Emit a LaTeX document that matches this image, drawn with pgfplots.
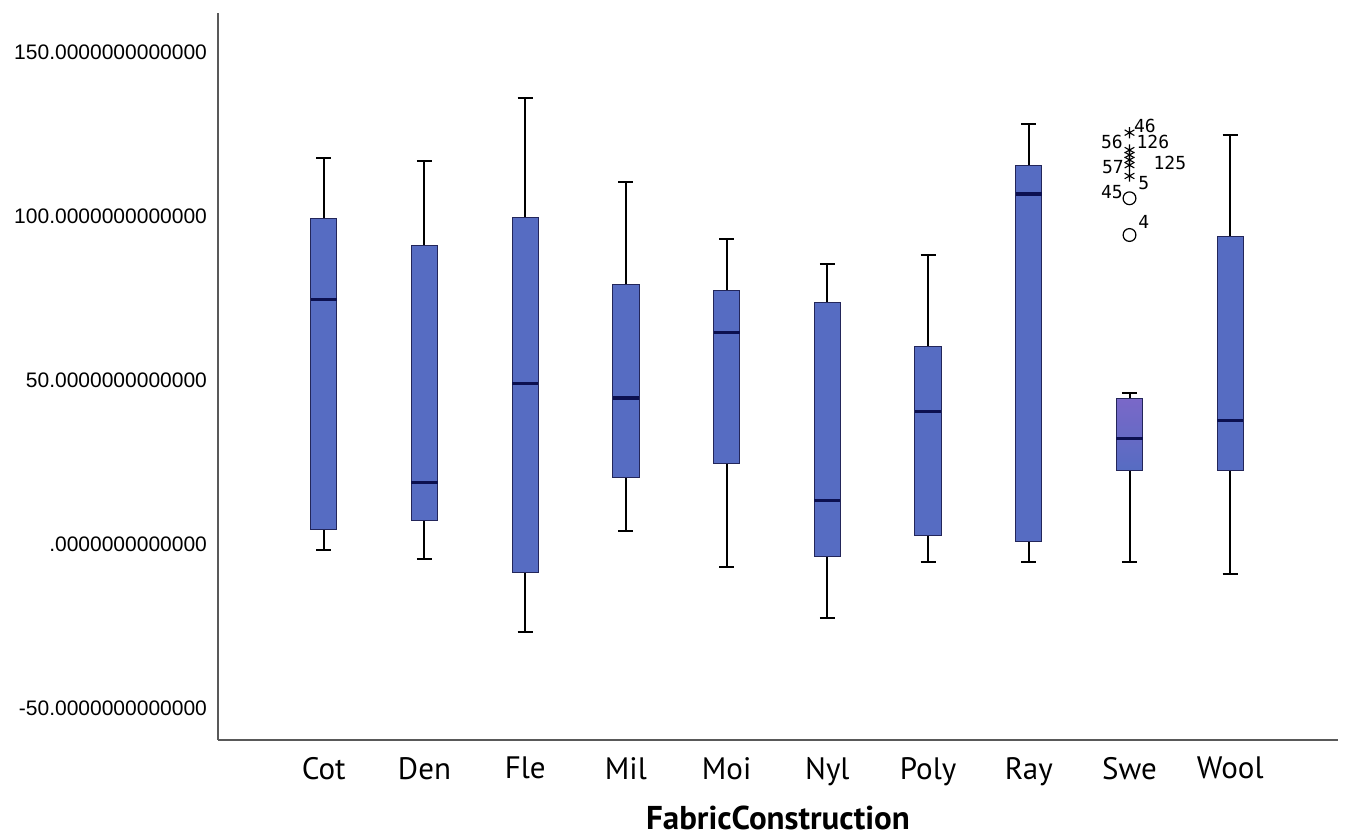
\documentclass[border=0pt]{standalone}
\usepackage{pgfplots}
\pgfplotsset{compat=1.18}
\usepgfplotslibrary{statistics}
\usepackage{fontspec}
\setmainfont{Liberation Sans}
\newfontfamily\catfont{PT Sans}
\newfontfamily\labfont{DejaVu Sans Mono}
\definecolor{boxfill}{RGB}{86,108,194}
\definecolor{boxedge}{RGB}{35,38,90}
\definecolor{medcol}{RGB}{12,16,80}
\definecolor{swetop}{RGB}{122,104,200}
\begin{document}
\begin{tikzpicture}
\begin{axis}[
  scale only axis, width=560pt, height=363.5pt,
  xmin=-1.05, xmax=10.07, ymin=-59.8, ymax=161.9,
  axis lines*=left,
  axis line style={draw=black!65, line width=0.8pt},
  major tick length=0pt,
  xtick={0,1,2,3,4,5,6,7,8,9},
  xticklabels={Cot,Den,Fle,Mil,Moi,Nyl,Poly,Ray,Swe,Wool},
  x tick label style={font=\catfont\fontsize{15.5}{17}\selectfont, yshift=-5pt},
  ytick={-50,0,50,100,150},
  yticklabels={-50.0000000000000,.0000000000000,50.0000000000000,100.0000000000000,150.0000000000000},
  y tick label style={font=\fontsize{10.5}{12}\selectfont, xshift=-2pt},
  xlabel={FabricConstruction},
  xlabel style={font=\catfont\bfseries\fontsize{16.5}{18}\selectfont, at={(axis description cs:0.5,0)}, anchor=center, yshift=-39pt},
  boxplot/draw direction=y,
  boxplot/box extend=0.26,
  boxplot/whisker extend=0.15,
  boxplot/every box/.style={fill=boxfill, draw=boxedge, line width=0.5pt},
  boxplot/every median/.style={draw=medcol, line width=1.6pt},
  boxplot/every whisker/.style={draw=black, line width=1pt},
  clip=false,
]
\addplot[boxplot prepared={draw position=0, lower whisker=-2.0, lower quartile=4.3, median=74.6, upper quartile=99.1, upper whisker=117.6}] coordinates {};
\addplot[boxplot prepared={draw position=1, lower whisker=-4.6, lower quartile=7.1, median=18.7, upper quartile=90.9, upper whisker=116.9}] coordinates {};
\addplot[boxplot prepared={draw position=2, lower whisker=-27.0, lower quartile=-8.8, median=48.9, upper quartile=99.5, upper whisker=136.1}] coordinates {};
\addplot[boxplot prepared={draw position=3, lower whisker=4.0, lower quartile=20.4, median=44.5, upper quartile=79.1, upper whisker=110.4}] coordinates {};
\addplot[boxplot prepared={draw position=4, lower whisker=-7.1, lower quartile=24.4, median=64.4, upper quartile=77.2, upper whisker=92.9}] coordinates {};
\addplot[boxplot prepared={draw position=5, lower whisker=-22.7, lower quartile=-3.7, median=13.2, upper quartile=73.6, upper whisker=85.4}] coordinates {};
\addplot[boxplot prepared={draw position=6, lower whisker=-5.4, lower quartile=2.5, median=40.3, upper quartile=60.2, upper whisker=88.1}] coordinates {};
\addplot[boxplot prepared={draw position=7, lower whisker=-5.4, lower quartile=0.7, median=106.7, upper quartile=115.3, upper whisker=128.0}] coordinates {};
\addplot[boxplot prepared={draw position=8, lower whisker=-5.6, lower quartile=22.3, median=32.2, upper quartile=44.4, upper whisker=46.1},
  boxplot/every box/.style={top color=swetop, bottom color=boxfill, draw=boxedge, line width=0.5pt}] coordinates {};
\addplot[boxplot prepared={draw position=9, lower whisker=-9.1, lower quartile=22.3, median=37.6, upper quartile=93.7, upper whisker=124.7}] coordinates {};
\addplot[only marks, mark=asterisk, mark size=2.8pt, black, line width=0.55pt] coordinates {(8,125.4) (8,120.1) (8,118.6) (8,117.1) (8,115.5) (8,112.2)};
\addplot[only marks, mark=o, mark size=3.2pt, black, line width=0.6pt] coordinates {(8,105.4) (8,94.2)};
\begin{scope}[every node/.style={font=\labfont\fontsize{9}{10}\selectfont, inner sep=0pt}]
\node at (axis cs:8.153,127.4) {46};
\node at (axis cs:7.825,122.7) {56};
\node at (axis cs:8.232,122.7) {126};
\node at (axis cs:7.835,115.0) {57};
\node at (axis cs:8.401,116.2) {125};
\node at (axis cs:8.143,110.1) {5};
\node at (axis cs:7.825,107.3) {45};
\node at (axis cs:8.143,98.2) {4};
\end{scope}
\end{axis}
\path ([shift={(-109pt,-48.5pt)}]current axis.south west) rectangle ([shift={(6.5pt,6.5pt)}]current axis.north east);
\end{tikzpicture}
\end{document}
